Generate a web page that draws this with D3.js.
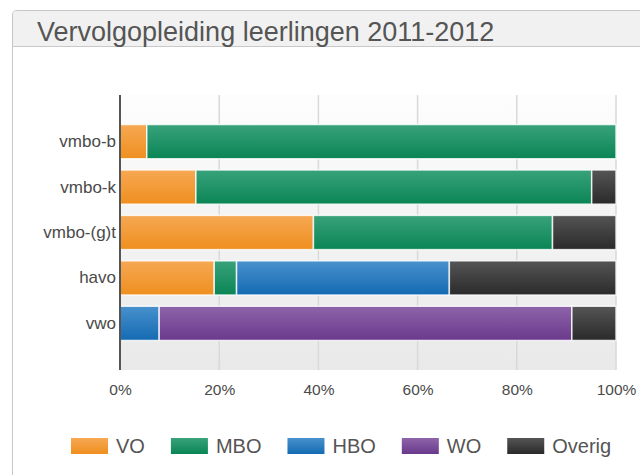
<!DOCTYPE html>
<html>
<head>
  <style type="text/css">
    body { margin: 0; background: #fff; }
    svg { display: block; font-family: "Liberation Sans", Arial, sans-serif; }
    .grid line { stroke: #d9d9d9; stroke-width: 1.5; }
    .axis text { fill: #4a4a4a; }
    .axis path, .axis line { display: none; }
  </style>
</head>
<body>
  <div class="svg_container"></div>

  <script src="https://cdnjs.cloudflare.com/ajax/libs/d3/7.8.5/d3.min.js"></script>
  <script type="text/javascript">
    // data (percent of pupils)
    var categories = ["vmbo-b", "vmbo-k", "vmbo-(g)t", "havo", "vwo"];
    var seriesNames = ["VO", "MBO", "HBO", "WO", "Overig"];
    var vo     = [5.4, 15.3, 39.0, 19.0, 0];
    var mbo    = [94.6, 79.8, 48.2, 4.5, 0];
    var hbo    = [0, 0, 0, 42.9, 7.9];
    var wo     = [0, 0, 0, 0, 83.2];
    var overig = [0, 4.9, 12.8, 33.6, 8.9];
    var xTicks = [0, 20, 40, 60, 80, 100];

    var colors = {
      VO:     ["#f6a853", "#ef8f1f"],
      MBO:    ["#39a27b", "#0a8555"],
      HBO:    ["#4891cd", "#146ab2"],
      WO:     ["#8d64a9", "#6a398c"],
      Overig: ["#555555", "#2a2a2a"]
    };

    var values = [vo, mbo, hbo, wo, overig];
    var table = categories.map(function(c, i) {
      var row = { cat: c };
      seriesNames.forEach(function(s, j) { row[s] = values[j][i]; });
      return row;
    });

    var W = 640, H = 475;
    var margin = { top: 95, right: 24, bottom: 105, left: 120 },
      width = W - margin.left - margin.right,
      height = H - margin.top - margin.bottom;

    var svg = d3.select(".svg_container").append("svg")
      .attr("width", W)
      .attr("height", H);

    var defs = svg.append("defs");
    seriesNames.forEach(function(s, i) {
      var g = defs.append("linearGradient")
        .attr("id", "grad" + i)
        .attr("x1", 0).attr("y1", 0).attr("x2", 0).attr("y2", 1);
      g.append("stop").attr("offset", "0%").attr("stop-color", colors[s][0]);
      g.append("stop").attr("offset", "100%").attr("stop-color", colors[s][1]);
    });
    var bg = defs.append("linearGradient")
      .attr("id", "plotbg")
      .attr("x1", 0).attr("y1", 0).attr("x2", 0).attr("y2", 1);
    bg.append("stop").attr("offset", "0%").attr("stop-color", "#fdfdfd");
    bg.append("stop").attr("offset", "100%").attr("stop-color", "#e9e9e9");

    // panel frame with header
    svg.append("path")
      .attr("d", "M12.5," + (H + 2) + " V15 Q12.5,10.5 17,10.5 H" + (W + 2))
      .attr("fill", "#fff")
      .attr("stroke", "#c6c6c6");
    svg.append("path")
      .attr("d", "M13,46 V15 Q13,11 17,11 H" + (W + 2) + " V46 Z")
      .attr("fill", "#f1f1f1");
    svg.append("line")
      .attr("x1", 13).attr("x2", W).attr("y1", 46.5).attr("y2", 46.5)
      .attr("stroke", "#c9c9c9");
    svg.append("text")
      .attr("x", 37).attr("y", 41)
      .attr("fill", "#555")
      .style("font-size", "27px")
      .text("Vervolgopleiding leerlingen 2011-2012");

    var chart = svg.append("g")
      .attr("transform", "translate(" + margin.left + "," + margin.top + ")");

    var x = d3.scaleLinear().domain([0, 100]).range([0, width]);
    var y = d3.scaleBand().domain(categories).range([0, height])
      .paddingInner(0.247).paddingOuter(0.65);

    chart.append("rect")
      .attr("width", width).attr("height", height)
      .attr("fill", "url(#plotbg)");

    // vertical grid
    chart.append("g").attr("class", "grid")
      .selectAll("line")
      .data(xTicks.slice(1))
      .enter().append("line")
      .attr("x1", function(d) { return x(d); })
      .attr("x2", function(d) { return x(d); })
      .attr("y1", 0).attr("y2", height);

    var stack = d3.stack().keys(seriesNames);
    var layers = stack(table);

    chart.selectAll(".layer")
      .data(layers)
      .enter().append("g")
      .attr("class", "layer")
      .attr("fill", function(d, i) { return "url(#grad" + i + ")"; })
      .selectAll("rect")
      .data(function(d) { return d.filter(function(p) { return p[1] - p[0] > 0; }); })
      .enter().append("rect")
      .attr("x", function(d) { return x(d[0]); })
      .attr("width", function(d) { return x(d[1]) - x(d[0]); })
      .attr("y", function(d) { return y(d.data.cat); })
      .attr("height", y.bandwidth())
      .attr("stroke", "#fff")
      .attr("stroke-opacity", 0.8)
      .attr("stroke-width", 1.5);

    // y axis
    chart.append("g")
      .attr("class", "axis")
      .call(d3.axisLeft(y).tickSize(0).tickPadding(4))
      .selectAll("text")
      .style("font-size", "17px");
    chart.append("line")
      .attr("x1", 0).attr("x2", 0).attr("y1", 0).attr("y2", height)
      .attr("stroke", "#555").attr("stroke-width", 2);

    // x axis
    chart.append("g")
      .attr("class", "axis")
      .attr("transform", "translate(0," + height + ")")
      .call(d3.axisBottom(x).tickValues(xTicks).tickSize(0).tickPadding(14)
        .tickFormat(function(d) { return d + "%"; }))
      .selectAll("text")
      .style("font-size", "15.5px");

    // legend
    var legend = svg.append("g").attr("transform", "translate(71,438)");
    var lx = 0;
    seriesNames.forEach(function(s, i) {
      var item = legend.append("g").attr("transform", "translate(" + lx + ",0)");
      item.append("rect")
        .attr("width", 37).attr("height", 16)
        .attr("fill", "url(#grad" + i + ")");
      var t = item.append("text")
        .attr("x", 45).attr("y", 14.5)
        .attr("fill", "#555")
        .style("font-size", "20px")
        .text(s);
      lx += 45 + t.node().getComputedTextLength() + 26;
    });
  </script>
</body>
</html>
